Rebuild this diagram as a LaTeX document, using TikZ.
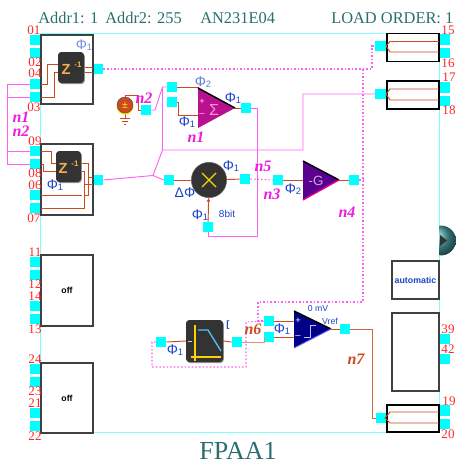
\documentclass[tikz,border=0pt]{standalone}
\usepackage{fontspec}
\setmainfont{Liberation Serif}
\setsansfont{Liberation Sans}
\usetikzlibrary{arrows.meta,positioning,calc,shadows}
\definecolor{padcyan}{HTML}{00FFFF}
\definecolor{framecyan}{HTML}{80FFFF}
\definecolor{headteal}{HTML}{2A6E70}
\definecolor{wirered}{HTML}{CC4A22}
\definecolor{pinkline}{HTML}{FF60F0}
\definecolor{labelpink}{HTML}{F01CDC}
\definecolor{phiblue}{HTML}{1C44C8}
\definecolor{iconblack}{HTML}{333333}
\definecolor{zorange}{HTML}{F0B050}
\definecolor{sumfill}{HTML}{B8108E}
\definecolor{gainfill}{HTML}{5A0090}
\definecolor{cmpfill}{HTML}{000088}
\newcommand{\phiof}[1]{Φ\raisebox{-1pt}{\fontsize{7}{8}\selectfont #1}}
\begin{document}
\begin{tikzpicture}[
		x=0.75pt,y=-0.75pt,
		>=Latex,
		frame/.style={draw=framecyan, line width=0.7pt},
		pad/.style={fill=padcyan, inner sep=0pt, outer sep=0pt, minimum size=8pt},
		block/.style={draw=black!75, fill=white, line width=0.9pt, inner sep=0pt, outer sep=0pt},
		pin/.style={text=red!85, inner sep=0pt, font=\fontsize{9.8}{11}\selectfont},
		head/.style={text=headteal, inner sep=0pt, anchor=base west, font=\fontsize{12.3}{14}\selectfont},
		net/.style={text=labelpink, inner sep=0pt, font=\fontsize{12}{13}\selectfont\bfseries\itshape},
		rednet/.style={text=wirered, inner sep=0pt, font=\fontsize{12}{13}\selectfont\bfseries\itshape},
		phi/.style={text=phiblue, inner sep=0pt, font=\fontsize{10.5}{11}\sffamily\selectfont},
		wire/.style={draw=wirered, line width=0.7pt},
		link/.style={draw=pinkline, line width=0.7pt},
		dots/.style={draw=pinkline, line width=0.8pt, dash pattern=on 1.2pt off 1.5pt},
		icon/.style={fill=iconblack, rounded corners=2.5pt, inner sep=0pt, outer sep=0pt, drop shadow={shadow xshift=0.6pt, shadow yshift=-0.8pt, fill=black!40, opacity=1}},
		zletter/.style={text=zorange, inner sep=0pt, font=\fontsize{11}{12}\sffamily\bfseries\selectfont},
		zpower/.style={text=zorange, inner sep=0pt, font=\fontsize{6}{7}\sffamily\bfseries\selectfont},
		sign/.style={inner sep=0pt, font=\fontsize{7}{8}\sffamily\selectfont},
		]
		\useasboundingbox (0,0) rectangle (456,471);
		
		% --------------------------------------------------
		% Frame and header
		% --------------------------------------------------
		\draw[frame] (40.5,33) rectangle (439,432);
		\node[head] (addra) at (38,23.5) {Addr1: 1};
		\node[head] (addrb) at (105,23.5) {Addr2: 255};
		\node[head] (chip) at (200,23.5) {AN231E04};
		\node[head] (order) at (331,23.5) {LOAD ORDER: 1};
		\node[text=headteal, inner sep=0pt, font=\fontsize{19.5}{22}\selectfont] (title) at (238,451) {FPAA1};
		
		% --------------------------------------------------
		% Pads
		% --------------------------------------------------
		\foreach \n/\x/\y in {p01/35.5/40,p02/35.5/53,p04/35.5/84,p03/35.5/97,
			p09/35.5/151,p08/35.5/164,p06/35.5/195,p07/35.5/208,
			p11/35.5/262,p12/35.5/275,p14/35.5/306,p13/35.5/319,
			p24/35.5/369,p23/35.5/382,p21/35.5/413,p22/35.5/426,
			p15/444.5/39.5,p16/444.5/53,p17/444.5/87.5,p18/444.5/101,
			p39/444.5/339,p42/444.5/359,p19/444.5/410.5,p20/444.5/424,
			qone/98/69,qtwo/98/180,ina/380.5/46,inb/380.5/94,inc/381/418,
			dc/146/110,suma/172/87,sumb/172/102,sumo/246/108,
			mula/169/180,mulo/245/179,mulb/208/227,
			gaini/278/180,gaino/354/180,
			lpi/161/342,lpo/237/342,cmpa/269/321,cmpb/269/337,cmpo/345/329}
		{
			\node[pad] (\n) at (\x,\y) {};
		}
		
		% --------------------------------------------------
		% Blocks
		% --------------------------------------------------
		\node[block, minimum width=39pt, minimum height=51.75pt] (zone) at (67,69.5) {};
		\node[block, minimum width=39pt, minimum height=53.25pt] (ztwo) at (67,179.5) {};
		\node[block, minimum width=39pt, minimum height=53.25pt, font=\fontsize{6.5}{7}\sffamily\bfseries] (offa) at (67,290.5) {off};
		\node[block, minimum width=39pt, minimum height=52.5pt, font=\fontsize{6.5}{7}\sffamily\bfseries] (offb) at (67,398) {off};
		\node[block, draw=black, minimum width=39pt, minimum height=21pt] (outa) at (413,47.5) {};
		\node[block, draw=black, minimum width=39pt, minimum height=21pt] (outb) at (413,95) {};
		\node[block, draw=black, minimum width=39pt, minimum height=20.25pt] (outc) at (413,418.5) {};
		\node[block, minimum width=35.25pt, minimum height=28.5pt, text=phiblue, font=\fontsize{6.6}{8}\sffamily\bfseries] (auto) at (415.5,280) {automatic};
		\node[block, minimum width=35.25pt, minimum height=58.5pt] (blank) at (415.5,352) {};
		
		% pin numbers
		\foreach \n/\x/\y in {01/34/30,02/35/62.5,04/35/73.5,03/34/107,
			09/35/141,08/35/173.5,06/35/185.5,07/34/218,
			11/35/252,12/35/284.5,14/35/296.5,13/35/329,
			24/35/359,23/35/391.5,21/35/403.5,22/35/436,
			15/448/30.5,16/448/63,17/449/77,18/449/110,
			39/448/329,42/448/349,19/449/401,20/448/434}
		{
			\node[pin] (l\n) at (\x,\y) {\n};
		}
		
		% --------------------------------------------------
		% Pink nets
		% --------------------------------------------------
		\draw[link] (p04.west) -- (7,84) -- (7,164) -- (p08.west);
		\draw[link] (p03.west) -- (7,97);
		\draw[link] (p09.west) -- (7,151);
		
		\coordinate (fork) at (153,175.5);
		\draw[link] (qtwo.east) -- (fork) -- (mula.west);
		\draw[link] (fork) -- (162.5,150) -- (303,150) -- (303,94) -- (inb.west);
		\draw[link] (162.5,150) -- (162.5,87);
		\draw[link] (dc.east) -- (155,110) -- (162.5,87) -- (suma.west);
		\draw[link] (sumo.east) -- (257,108) -- (257,236) -- (208,236) -- (mulb.south);
		
		\draw[dots] (qone.east) -- (372,69) -- (372,46) -- (ina.west);
		\draw[dots] (mulo.east) -- (gaini.west);
		\draw[dots] (gaino.east) -- (363,180);
		\draw[dots] (363,69) -- (363,302) -- (258,302) -- (258,321) -- (cmpa.west);
		\draw[dots] (lpi.west) -- (152,342) -- (152,367) -- (246,367) -- (246,322) -- (cmpa.west);
		
		% --------------------------------------------------
		% Delay blocks
		% --------------------------------------------------
		\draw[wire] (p04.east) -- (47,84) -- (47,64) -- (58,64);
		\draw[wire] (p03.east) -- (54,97) -- (54,72) -- (58,72);
		\draw[wire] (84,67) -- (93,67);
		\draw[wire] (84,72) -- (93,72);
		\node[icon, minimum width=19.5pt, minimum height=23.25pt] (zicona) at (71,67.5) {};
		\node[zletter] (zza) at (66,69) {Z};
		\node[zpower] (zxa) at (78,65) {-1};
		
		\draw[wire] (p09.east) -- (51,151) -- (51,163) -- (56,163);
		\draw[wire] (p08.east) -- (43,164) -- (43,171) -- (56,171);
		\draw[wire] (p06.east) -- (82,195);
		\draw[wire] (p07.east) -- (84,208) -- (84,171) -- (81,171);
		\draw[wire] (81,163) -- (88,163) -- (88,195) -- (84,195);
		\draw[wire] (84,184) -- (93,184);
		\draw[wire] (88,177) -- (93,177);
		\node[icon, minimum width=18.75pt, minimum height=23.25pt] (ziconb) at (68.5,166.5) {};
		\node[zletter] (zzb) at (63,168) {Z};
		\node[zpower] (zxb) at (75,164) {-1};
		
		% --------------------------------------------------
		% Output blocks
		% --------------------------------------------------
		\draw[wire] (p15.west) ++(0,2) -- (390,41.5) -- (386,46) -- (390,52) -- (439,52);
		\draw[wire] (p17.west) ++(0,1.5) -- (390,89) -- (386,94) -- (390,100) -- (439,100);
		\draw[wire] (p19.west) ++(0,1.5) -- (390,412) -- (385,418) -- (390,423) -- (439,423);
		\draw[wire] (ina.east) -- (386,46);
		\draw[wire] (inb.east) -- (386,94);
		\draw[wire] (inc.east) -- (385,418);
		
		% --------------------------------------------------
		% Voltage source
		% --------------------------------------------------
		\draw[wire] (125,97) -- (125,95) -- (138,95) -- (138,110) -- (dc.west);
		\draw[wire, line width=0.6pt] (125,113) -- (125,118) (120,118) -- (130,118) (122,121) -- (128,121) (124,124) -- (126,124);
		\fill[yellow!80!orange] (125,106.5) circle (6.2pt);
		\node[circle, fill=wirered, draw=black!70, line width=0.3pt, minimum size=12pt, inner sep=0pt, text=yellow!90!orange, font=\fontsize{8}{8}\bfseries\selectfont] (dcsrc) at (125,105) {±};
		
		% --------------------------------------------------
		% Summer
		% --------------------------------------------------
		\coordinate (sumtip) at (235,108);
		\draw[wire] (suma.east) -- (198,87) -- (198,92);
		\draw[wire] (sumb.east) -- (178,102) -- (178,115) -- (198,115);
		\draw[wire] (sumo.west) -- (sumtip);
		\fill[fill=sumfill] (198,88) -- (sumtip) -- (198,128) -- cycle;
		\draw[black, line width=1.1pt] (198,88) -- (sumtip);
		\node[sign, text=white!85!magenta] (sumplus) at (202,102) {+};
		\node[sign, text=white!85!magenta] (summinus) at (202,115) {--};
		\node[text=white!60!magenta, inner sep=0pt, font=\fontsize{12}{13}\sffamily\selectfont] (sumsign) at (214,110) {Σ};
		
		% --------------------------------------------------
		% Multiplier
		% --------------------------------------------------
		\node[circle, fill=iconblack, draw=black!60, minimum size=26.5pt, inner sep=0pt, outer sep=0pt] (mult) at (209,180) {};
		\draw[wire] (mula) -- (mult);
		\draw[wire] (mult) -- (mulo);
		\draw[wire,-{Latex[length=3pt,width=3pt]}] (mulb) -- (mult);
		\draw[yellow!70!orange, line width=1pt] (202,173) -- (216,187) (216,173) -- (202,187);
		
		% --------------------------------------------------
		% Gain
		% --------------------------------------------------
		\coordinate (gaintip) at (339,180);
		\draw[wire] (gaini.east) -- (303,180);
		\draw[wire] (gaintip) -- (gaino.west);
		\fill[fill=gainfill] (303,161) -- (gaintip) -- (303,200) -- cycle;
		\draw[black, line width=1.1pt] (303,161) -- (gaintip);
		\draw[magenta, line width=1pt] (303,200) -- (gaintip);
		\node[text=white!65!violet, inner sep=0pt, font=\fontsize{10}{11}\sffamily\selectfont] (gainsign) at (316,181) {-G};
		
		% --------------------------------------------------
		% Filter
		% --------------------------------------------------
		\node[icon, minimum width=27.75pt, minimum height=31.5pt] (lpbox) at (204.5,341) {};
		\draw[wire] (lpi.east) -- (lpbox.west);
		\draw[wire] (lpbox.east) -- (lpo.west);
		\draw[white!65!gray, line width=0.7pt] (188,341.5) -- (192,341.5);
		\draw[yellow!70!orange, line width=1pt] (195,325) -- (195,361) (191,357) -- (221,357);
		\draw[cyan!70!white, line width=1pt] (198,330) -- (208,330) -- (221,351);
		
		% --------------------------------------------------
		% Comparator
		% --------------------------------------------------
		\coordinate (cmptip) at (331,329);
		\draw[wire, draw=wirered!60!white] (lpo.east) -- (264,342) -- (264,337) -- (cmpb.west);
		\draw[wire] (cmpa.east) -- (294,321);
		\draw[wire] (cmpb.east) -- (294,337);
		\draw[wire] (cmptip) -- (cmpo.west);
		\draw[wire, draw=wirered!85!white] (cmpo.east) -- (372,329) -- (372,418) -- (inc.west);
		\fill[fill=cmpfill] (294,311) -- (cmptip) -- (294,348) -- cycle;
		\draw[black, line width=1.1pt] (294,311) -- (cmptip);
		\draw[blue!60!white, line width=0.7pt] (294,348) -- (cmptip);
		\node[sign, text=white] (cmpplus) at (298,321) {+};
		\node[sign, text=white] (cmpminus) at (298,337) {--};
		\draw[white!75!blue, line width=0.6pt] (304,337) -- (310,337) -- (310,325) -- (316,325);
		
		% --------------------------------------------------
		% Small labels
		% --------------------------------------------------
		\node[phi, text=phiblue!60!white] (fa) at (84,45) {\phiof{1}};
		\node[phi] (fb) at (55,185) {\phiof{1}};
		\node[phi, text=phiblue!70!white] (fc) at (203,82) {\phiof{2}};
		\node[phi] (fd) at (233,98) {\phiof{1}};
		\node[phi] (fe) at (187,122) {\phiof{1}};
		\node[phi] (ff) at (231,166) {\phiof{1}};
		\node[phi] (fg) at (185,193) {ΔΦ};
		\node[phi] (fh) at (200,215) {\phiof{1}};
		\node[phi, font=\fontsize{7.5}{8}\sffamily\selectfont] (fi) at (227,214) {8bit};
		\node[phi] (fj) at (293,189) {\phiof{2}};
		\node[phi] (fk) at (175,350) {\phiof{1}};
		\node[phi] (fl) at (282,329) {\phiof{1}};
		\node[phi, font=\fontsize{6.5}{7}\sffamily\selectfont] (fm) at (318,309) {0 mV};
		\node[phi, font=\fontsize{6.5}{7}\sffamily\selectfont] (fn) at (330,321) {Vref};
		\node[phi, font=\fontsize{7}{8}\sffamily\bfseries\selectfont] (fo) at (228,325) {[};
		
		\node[net] (na) at (21,117) {n1};
		\node[net] (nb) at (21,131) {n2};
		\node[net] (nc) at (144,98) {n2};
		\node[net] (nd) at (196,137) {n1};
		\node[net] (ne) at (263,166) {n5};
		\node[net] (nf) at (272,194) {n3};
		\node[net] (ng) at (347,212) {n4};
		\node[rednet] (nh) at (253,329) {n6};
		\node[rednet] (ni) at (356,359) {n7};
		
		% --------------------------------------------------
		% Side button
		% --------------------------------------------------
		\begin{scope}
			\clip (439.5,220) rectangle (456,260);
			\shade[ball color=teal!70!white] (441,240.5) circle (11.2pt);
		\end{scope}
		\fill[black!80] (440,235) -- (447,240.5) -- (440,246) -- cycle;
		
	\end{tikzpicture}
\end{document}
